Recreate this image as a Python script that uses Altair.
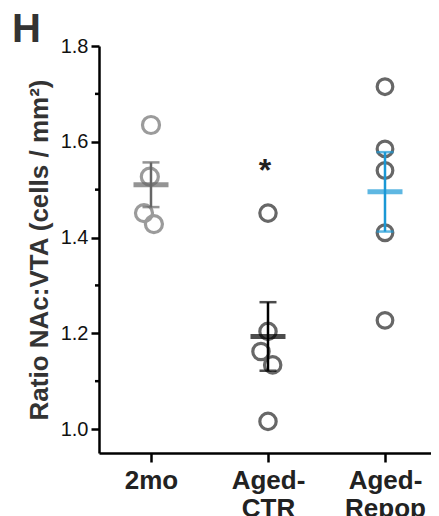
import altair as alt
import pandas as pd

# ---- data ----
groups = ["2mo", "Aged-CTR", "Aged-Repop"]
values_2mo = [1.635, 1.527, 1.451, 1.428]
values_ctr = [1.451, 1.204, 1.162, 1.134, 1.016]
values_repop = [1.715, 1.585, 1.540, 1.410, 1.227]
jitter_2mo = [0.0, -0.01, -0.06, 0.025]
jitter_ctr = [0.0, 0.0, -0.06, 0.04, 0.0]
jitter_repop = [0.0, 0.0, 0.0, 0.0, 0.0]
significance = ["", "*", ""]
y_ticks = [1.0, 1.2, 1.4, 1.6, 1.8]
y_minor_ticks = [1.1, 1.3, 1.5, 1.7]

point_colors = ["#9b9b9b", "#676767", "#676767"]
mean_colors = ["#666666", "#000000", "#1a98d5"]
point_sizes = [290, 245, 245]

rows = []
for gi, (g, vals, jit) in enumerate(zip(groups, [values_2mo, values_ctr, values_repop],
                                         [jitter_2mo, jitter_ctr, jitter_repop])):
    for v, j in zip(vals, jit):
        rows.append({"group": g, "gi": gi, "xpos": gi + j, "value": v, "sig": significance[gi]})
df = pd.DataFrame(rows)
minor_df = pd.DataFrame({"value": y_minor_ticks})

# multi-line x labels built from the group names
label_parts = []
for g in groups:
    parts = g.split("-")
    label_parts.append([p + "-" for p in parts[:-1]] + [parts[-1]])
label_arr = "[" + ",".join("[" + ",".join("'" + p + "'" for p in lp) + "]" for lp in label_parts) + "]"

FONT = "Arial, Liberation Sans, sans-serif"

xscale = alt.Scale(domain=[-0.4444, 2.3932], nice=False, zero=False)
yscale = alt.Scale(domain=[0.95, 1.8], nice=False, zero=False)

xaxis = alt.Axis(values=list(range(len(groups))), labelExpr=label_arr + "[datum.value]",
                 title=None, grid=False, tickSize=9, tickWidth=2.5, tickColor="#000",
                 domainColor="#000", domainWidth=2.5, labelFontSize=26, labelFontWeight="bold",
                 labelFont=FONT, labelColor="#222", labelPadding=5, labelLineHeight=28,
                 labelAngle=0, labelAlign="center", labelBaseline="top", labelFlush=False,
                 labelOverlap=False)
yaxis = alt.Axis(values=y_ticks, format=".1f", title="Ratio NAc:VTA (cells / mm²)",
                 titleFontSize=26, titleFontWeight="bold", titleFont=FONT, titleColor="#333",
                 titlePadding=8, labelFontSize=20, labelFont=FONT, labelColor="#111",
                 labelPadding=3, tickSize=8, tickWidth=2.5, tickColor="#000",
                 domainWidth=2.5, domainColor="#000", grid=False, labelFlush=False)

X = lambda f: alt.X(f, scale=xscale, axis=xaxis)
Y = lambda f: alt.Y(f, scale=yscale, axis=yaxis)
mean_color = alt.Color("group:N", scale=alt.Scale(domain=groups, range=mean_colors), legend=None)

points = alt.Chart(df).mark_point(shape="circle", filled=False, strokeWidth=3.2, opacity=1).encode(
    x=X("xpos:Q"), y=Y("value:Q"),
    stroke=alt.Stroke("group:N", scale=alt.Scale(domain=groups, range=point_colors), legend=None),
    size=alt.Size("group:N", scale=alt.Scale(domain=groups, range=point_sizes), legend=None),
)

minor = alt.Chart(minor_df).mark_rule(strokeWidth=2.5, color="#000").encode(
    y=Y("value:Q"), x=alt.value(-4), x2=alt.value(0)
)

agg = alt.Chart(df).transform_aggregate(
    mean="mean(value)", sem="stderr(value)", groupby=["group", "gi"]
).transform_calculate(lo="datum.mean - datum.sem", hi="datum.mean + datum.sem")

err = agg.mark_rule(strokeWidth=2.5).encode(x=X("gi:Q"), y=Y("lo:Q"), y2="hi:Q", color=mean_color)
cap_lo = agg.mark_tick(orient="horizontal", size=17, thickness=2.5).encode(
    x=X("gi:Q"), y=Y("lo:Q"), color=mean_color)
cap_hi = agg.mark_tick(orient="horizontal", size=17, thickness=2.5).encode(
    x=X("gi:Q"), y=Y("hi:Q"), color=mean_color)
mean_bar = agg.mark_tick(orient="horizontal", size=35, thickness=5).encode(
    x=X("gi:Q"), y=Y("mean:Q"), color=mean_color)

star = alt.Chart(df).transform_filter("datum.sig != ''").transform_aggregate(
    top="max(value)", groupby=["group", "gi", "sig"]
).mark_text(fontSize=32, fontWeight="bold", font=FONT, dy=-32, dx=-3,
            baseline="alphabetic", color="#222").encode(
    x=X("gi:Q"), y=Y("top:Q"), text="sig:N")

chart = alt.layer(points, minor, err, cap_lo, cap_hi, mean_bar, star).properties(
    width=332, height=407,
    padding={"left": 91, "top": 38, "right": 0, "bottom": 63},
    autosize=alt.AutoSizeParams(type="none"),
    title=alt.Title("H", anchor="start", frame="group", fontSize=40, fontWeight="bold",
                    font=FONT, color="#333", dx=-87, dy=14, offset=0),
).configure_view(stroke=None)

chart.save("out.html", embed_options={"renderer": "svg", "actions": False})
